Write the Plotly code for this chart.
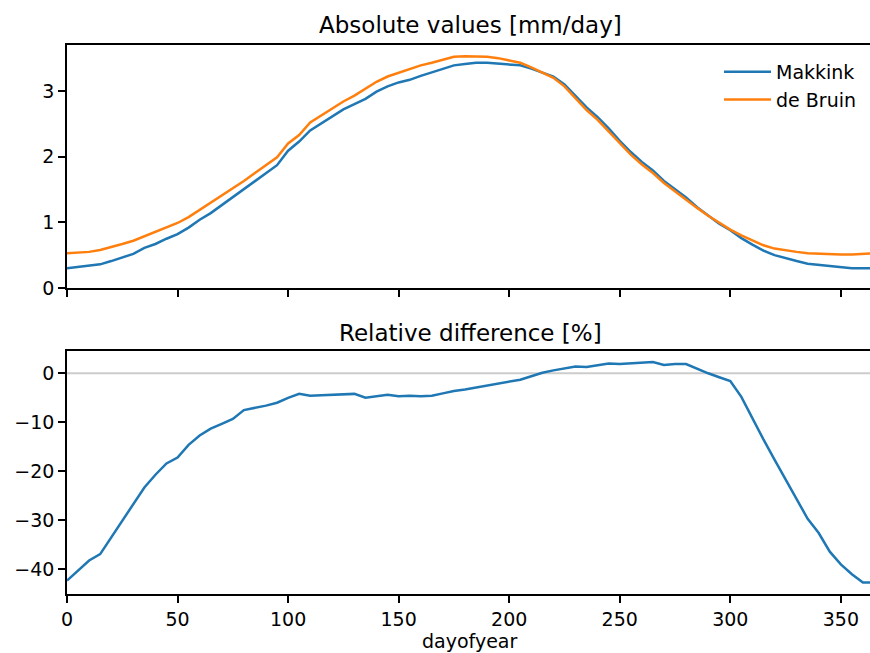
import plotly.graph_objects as go
from plotly.subplots import make_subplots

days = list(range(0, 366, 5))

de_bruin = [0.53, 0.54, 0.55, 0.58, 0.62, 0.67, 0.72, 0.79, 0.85, 0.92,
            0.99, 1.08, 1.19, 1.29, 1.40, 1.52, 1.63, 1.75, 1.87, 1.99,
            2.20, 2.33, 2.52, 2.63, 2.73, 2.84, 2.93, 3.03, 3.14, 3.22,
            3.28, 3.33, 3.39, 3.43, 3.48, 3.52, 3.53, 3.53, 3.52, 3.50,
            3.46, 3.43, 3.36, 3.28, 3.20, 3.07, 2.89, 2.71, 2.56, 2.38,
            2.20, 2.03, 1.88, 1.75, 1.60, 1.47, 1.35, 1.22, 1.10, 0.99,
            0.89, 0.80, 0.72, 0.65, 0.60, 0.57, 0.55, 0.53, 0.52, 0.52,
            0.51, 0.51, 0.52, 0.53]

makkink = [0.30, 0.32, 0.34, 0.36, 0.41, 0.47, 0.52, 0.61, 0.67, 0.75,
           0.82, 0.92, 1.04, 1.14, 1.26, 1.38, 1.51, 1.63, 1.75, 1.87,
           2.09, 2.23, 2.40, 2.51, 2.61, 2.72, 2.80, 2.88, 2.99, 3.07,
           3.13, 3.17, 3.23, 3.28, 3.34, 3.39, 3.41, 3.43, 3.43, 3.42,
           3.40, 3.39, 3.34, 3.28, 3.22, 3.10, 2.93, 2.75, 2.60, 2.43,
           2.24, 2.07, 1.92, 1.79, 1.63, 1.50, 1.38, 1.23, 1.10, 0.98,
           0.88, 0.76, 0.66, 0.57, 0.50, 0.45, 0.41, 0.37, 0.35, 0.33,
           0.31, 0.30, 0.30, 0.30]

rel_diff = [-42.3, -40.2, -38.2, -36.9, -33.5, -30.0, -26.5, -23.3, -20.7, -18.4,
            -17.2, -14.6, -12.7, -11.3, -10.3, -9.3, -7.5, -7.1, -6.6, -6.0,
            -5.0, -4.2, -4.6, -4.5, -4.4, -4.3, -4.2, -5.0, -4.7, -4.4,
            -4.7, -4.6, -4.7, -4.6, -4.1, -3.6, -3.3, -2.9, -2.5, -2.2,
            -1.8, -1.3, -0.6, 0.1, 0.6, 1.0, 1.4, 1.3, 1.7, 2.0,
            1.9, 2.0, 2.1, 2.3, 1.7, 1.9, 1.9, 0.9, 0.0, -0.8,
            -1.6, -4.8, -9.2, -13.5, -17.6, -21.6, -25.9, -29.7, -32.6, -36.4,
            -39.0, -41.0, -42.7, -42.7]

x_ticks = [0, 50, 100, 150, 200, 250, 300, 350]
top_ticks = [0, 1, 2, 3]
bottom_ticks = [0, -10, -20, -30, -40]

BLUE = "#1f77b4"
ORANGE = "#ff7f0e"
FONT = "DejaVu Sans"

# figure is a little wider than the 870 px window so that the right spine
# falls just outside the visible area, as in the reference
W, H = 874, 653
L = 67

fig = make_subplots(rows=2, cols=1, shared_xaxes=True)

fig.add_trace(go.Scatter(x=days, y=makkink, mode="lines", name="Makkink",
                         line=dict(color=BLUE, width=2.5)), row=1, col=1)
fig.add_trace(go.Scatter(x=days, y=de_bruin, mode="lines", name="de Bruin",
                         line=dict(color=ORANGE, width=2.5)), row=1, col=1)
fig.add_trace(go.Scatter(x=days, y=rel_diff, mode="lines", name="Relative",
                         showlegend=False,
                         line=dict(color=BLUE, width=2.5)), row=2, col=1)

def py(px):
    return 1 - px / H

def pxx(px):
    return (px - L) / (W - L)

axis_common = dict(showline=True, linecolor="black", linewidth=1.5,
                   ticks="outside", ticklen=7, tickwidth=1.5, tickcolor="black",
                   showgrid=False, zeroline=False, automargin=False,
                   tickfont=dict(family=FONT, size=19, color="black"))

fig.update_xaxes(**axis_common, range=[0, 365], tickvals=x_ticks, mirror=True)
fig.update_xaxes(showticklabels=False, row=1, col=1)
fig.update_yaxes(**axis_common, mirror=False)
fig.update_yaxes(range=[0, 3.70], tickvals=top_ticks, row=1, col=1)
fig.update_yaxes(range=[-45.04, 4.55], tickvals=bottom_ticks, row=2, col=1)

fig.update_layout(
    width=W, height=H,
    margin=dict(l=L, r=0, t=0, b=0, autoexpand=False),
    plot_bgcolor="white", paper_bgcolor="white",
    font=dict(family=FONT, size=19, color="black"),
    yaxis=dict(domain=[py(288), py(45)]),
    yaxis2=dict(domain=[py(594), py(351)]),
    legend=dict(x=pxx(719), y=py(53), xanchor="left", yanchor="top",
                bgcolor="rgba(0,0,0,0)", font=dict(family=FONT, size=19),
                itemwidth=47, tracegroupgap=0),
    showlegend=True,
)

fig.add_shape(type="line", xref="x2 domain", yref="y2", x0=0, x1=1, y0=0, y1=0,
              line=dict(color="#cccccc", width=2), layer="below")

fig.add_annotation(text="Absolute values [mm/day]", xref="paper", yref="paper",
                   x=pxx(470), y=py(25), xanchor="center", yanchor="middle",
                   showarrow=False, font=dict(family=FONT, size=23, color="black"))
fig.add_annotation(text="Relative difference [%]", xref="paper", yref="paper",
                   x=pxx(470), y=py(333), xanchor="center", yanchor="middle",
                   showarrow=False, font=dict(family=FONT, size=23, color="black"))
fig.add_annotation(text="dayofyear", xref="paper", yref="paper",
                   x=pxx(470), y=py(641), xanchor="center", yanchor="middle",
                   showarrow=False, font=dict(family=FONT, size=19, color="black"))

fig.write_html("out.html",
               config={"displayModeBar": False},
               post_script="document.body.style.margin='0';"
                           "document.body.style.overflow='hidden';")
